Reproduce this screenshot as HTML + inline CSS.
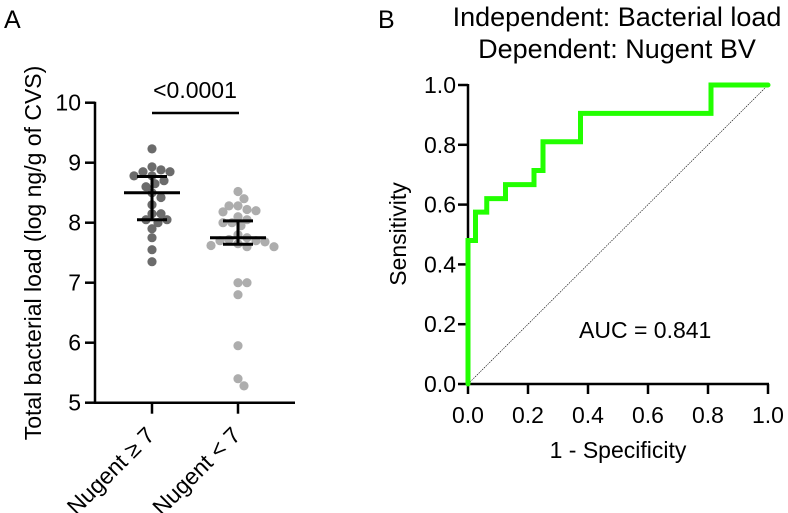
<!DOCTYPE html>
<html><head><meta charset="utf-8"><style>
body{margin:0;background:#fff;}
svg{display:block;font-family:"Liberation Sans",Arial,sans-serif;}
</style></head><body>
<svg id="c" width="788" height="513" viewBox="0 0 788 513">
<text x="4" y="28" font-size="25">A</text>
<text x="378" y="28" font-size="25">B</text>
<text x="617" y="26" font-size="27" text-anchor="middle">Independent: Bacterial load</text>
<text x="617" y="58" font-size="27" text-anchor="middle">Dependent: Nugent BV</text>
<g id="A"></g>
<g id="B"></g>
</svg>
<script>
const groups = ["Nugent \u2265 7","Nugent < 7"];
const group1 = [9.23,8.93,8.88,8.85,8.85,8.78,8.78,8.65,8.6,8.5,8.42,8.3,8.15,8.15,8.05,8.05,7.9,7.75,7.55,7.35,8.0,8.7];
const group2 = [8.52,8.4,8.28,8.28,8.22,8.2,8.18,8.1,8.05,8.0,8.0,7.95,7.8,7.75,7.72,7.7,7.7,7.68,7.65,7.62,7.6,7.6,7.0,7.0,6.8,5.95,5.4,5.28];
const means = [8.5,7.75];
const errLow = [8.05,7.64];
const errHigh = [8.77,8.03];
const yTicksA = [5,6,7,8,9,10];
const pLabel = "<0.0001";
const rocX = [0,0,0.025,0.025,0.0625,0.0625,0.125,0.125,0.22,0.22,0.25,0.25,0.375,0.375,0.81,0.81,1.0];
const rocY = [0,0.48,0.48,0.575,0.575,0.62,0.62,0.667,0.667,0.714,0.714,0.81,0.81,0.905,0.905,1.0,1.0];
const ticksB = [0,0.2,0.4,0.6,0.8,1.0];
const aucLabel = "AUC = 0.841";
const NS="http://www.w3.org/2000/svg";
function mk(parent,tag,attrs,text){const e=document.createElementNS(NS,tag);for(const k in attrs)e.setAttribute(k,attrs[k]);if(text!==undefined)e.textContent=text;parent.appendChild(e);return e;}
// Panel A
const A=document.getElementById('A');
const yA=v=>402.7-(v-5)*60;
const xA=i=>152+i*86;
let e;
e=mk(A,'line',{x1:95,y1:yA(10)-1,x2:95,y2:yA(5),stroke:'#000','stroke-width':2.5});

e=mk(A,'line',{x1:94,y1:yA(5),x2:295,y2:yA(5),stroke:'#000','stroke-width':2.5});

yTicksA.forEach(t=>{
  e=mk(A,'line',{x1:85,y1:yA(t),x2:95,y2:yA(t),stroke:'#000','stroke-width':2.5});
  
  e=mk(A,'text',{x:81,y:yA(t)+8,'font-size':23,'text-anchor':'end'},String(t));
  
});
e=mk(A,'text',{x:0,y:0,'font-size':23,'text-anchor':'middle',transform:'translate(41,253) rotate(-90)'},'Total bacterial load (log ng/g of CVS)');

groups.forEach((g,i)=>{
  e=mk(A,'line',{x1:xA(i),y1:yA(5),x2:xA(i),y2:yA(5)+11,stroke:'#000','stroke-width':2.5});
  
  e=mk(A,'text',{x:0,y:0,'font-size':23,'text-anchor':'end',transform:`translate(${xA(i)+4},${yA(5)+34}) rotate(-45)`},g);
  
});
function swarm(vals,cx,color,name){
  const placed=[];const r=4.6,d=8;
  vals.forEach(v=>{
    const y=yA(v);let off=0;
    for(let k=0;k<40;k++){
      const cand=k===0?0:(k%2?1:-1)*Math.ceil(k/2)*3;
      if(placed.every(p=>Math.hypot(p[0]-cand,p[1]-y)>=d)){off=cand;break;}
    }
    placed.push([off,y]);
    const c=mk(A,'circle',{cx:cx+off,cy:y,r:r,fill:color});
    
    
  });
}
swarm(group1,xA(0),'#6b6b6b','dot-nugent-high');
swarm(group2,xA(1),'#adadad','dot-nugent-low');
means.forEach((m,i)=>{
  const cx=xA(i);
  e=mk(A,'line',{x1:cx-28,y1:yA(m),x2:cx+28,y2:yA(m),stroke:'#000','stroke-width':3});
  
  e=mk(A,'line',{x1:cx,y1:yA(errLow[i]),x2:cx,y2:yA(errHigh[i]),stroke:'#000','stroke-width':3});
  
  [errLow[i],errHigh[i]].forEach(v=>{
    e=mk(A,'line',{x1:cx-15,y1:yA(v),x2:cx+15,y2:yA(v),stroke:'#000','stroke-width':3});
    
  });
});
e=mk(A,'line',{x1:xA(0),y1:113,x2:xA(1)+1,y2:113,stroke:'#000','stroke-width':2.5});

e=mk(A,'text',{x:(xA(0)+xA(1))/2,y:98,'font-size':23,'text-anchor':'middle'},pLabel);

// Panel B
const B=document.getElementById('B');
const xB=v=>468+v*300, yB=v=>384-v*299;
e=mk(B,'line',{x1:xB(0),y1:yB(0),x2:xB(1),y2:yB(1),stroke:'#000','stroke-width':0.6,'stroke-dasharray':'1.5,1'});

e=mk(B,'line',{x1:xB(0),y1:yB(1)-1,x2:xB(0),y2:yB(0),stroke:'#000','stroke-width':2.5});

e=mk(B,'line',{x1:xB(0)-1,y1:yB(0),x2:xB(1)+1,y2:yB(0),stroke:'#000','stroke-width':2.5});

ticksB.forEach(t=>{
  e=mk(B,'line',{x1:xB(0)-10,y1:yB(t),x2:xB(0),y2:yB(t),stroke:'#000','stroke-width':2.5});
  
  e=mk(B,'text',{x:xB(0)-12,y:yB(t)+8,'font-size':23,'text-anchor':'end'},t.toFixed(1));
  
  e=mk(B,'line',{x1:xB(t),y1:yB(0),x2:xB(t),y2:yB(0)+10,stroke:'#000','stroke-width':2.5});
  
  e=mk(B,'text',{x:xB(t),y:423,'font-size':23,'text-anchor':'middle'},t.toFixed(1));
  
});
e=mk(B,'polyline',{points:rocX.map((x,i)=>xB(x)+','+yB(rocY[i])).join(' '),fill:'none',stroke:'#22ff00','stroke-width':5,'stroke-linejoin':'miter','stroke-linecap':'round'});

e=mk(B,'text',{x:579,y:338,'font-size':23},aucLabel);

e=mk(B,'text',{x:618,y:458,'font-size':23,'text-anchor':'middle'},'1 - Specificity');

e=mk(B,'text',{x:0,y:0,'font-size':23,'text-anchor':'middle',transform:'translate(406,234) rotate(-90)'},'Sensitivity');

</script>
</body></html>
